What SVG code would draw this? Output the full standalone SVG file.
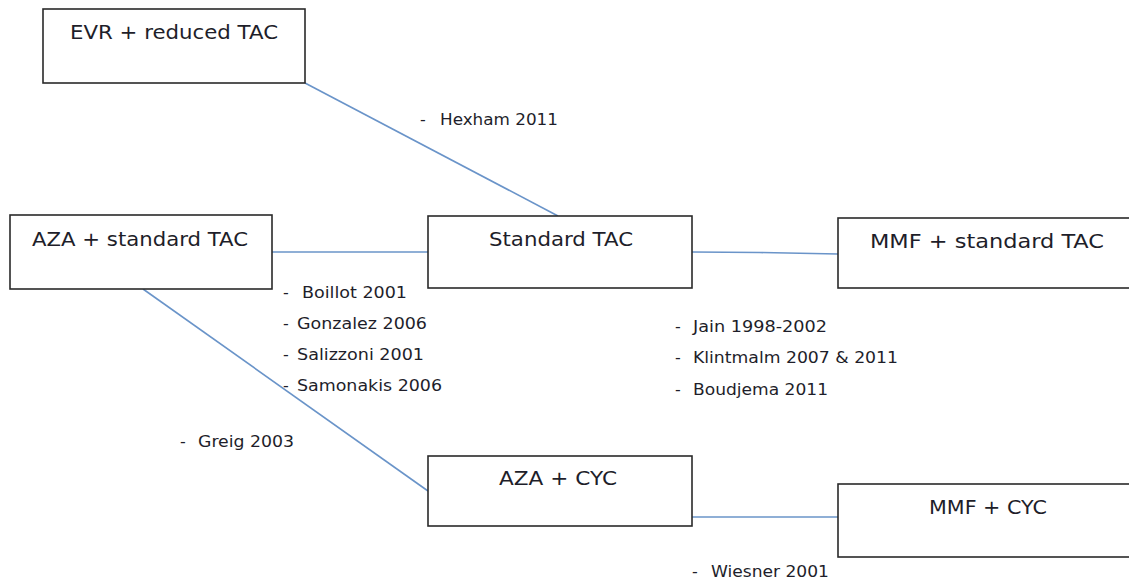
<svg xmlns="http://www.w3.org/2000/svg" width="1129" height="582" viewBox="0 0 1129 582">
<style>
.box{fill:#fff;stroke:#2a2a2a;stroke-width:1.6}
.lbl{font-family:"DejaVu Sans",Verdana,sans-serif;font-size:20px;fill:#1e1e2a}
.ref{font-family:"DejaVu Sans",Verdana,sans-serif;font-size:16px;fill:#1e1e2a}
.con{stroke:#6a94c9;stroke-width:1.6;fill:none}
</style>
<rect width="1129" height="582" fill="#fff"/>
<g id="connectors">
<line class="con" x1="305" y1="83" x2="558" y2="216"/>
<line class="con" x1="272" y1="252" x2="428" y2="252"/>
<polyline class="con" points="692,252 760,252.5 838,254"/>
<line class="con" x1="143" y1="289" x2="428" y2="491"/>
<line class="con" x1="692" y1="517" x2="838" y2="517"/>
</g>
<g id="evr">
<rect class="box" x="43" y="9" width="262" height="74"/>
<text class="lbl" x="70" y="39" textLength="208" lengthAdjust="spacingAndGlyphs">EVR + reduced TAC</text>
</g>
<g id="aza-std">
<rect class="box" x="10" y="215" width="262" height="74"/>
<text class="lbl" x="32" y="246" textLength="216" lengthAdjust="spacingAndGlyphs">AZA + standard TAC</text>
</g>
<g id="std">
<rect class="box" x="428" y="216" width="264" height="72"/>
<text class="lbl" x="489" y="246" textLength="144" lengthAdjust="spacingAndGlyphs">Standard TAC</text>
</g>
<g id="mmf-std">
<rect class="box" x="838" y="218" width="300" height="70"/>
<text class="lbl" x="870" y="248" textLength="234" lengthAdjust="spacingAndGlyphs">MMF + standard TAC</text>
</g>
<g id="aza-cyc">
<rect class="box" x="428" y="456" width="264" height="70"/>
<text class="lbl" x="499" y="485" textLength="118" lengthAdjust="spacingAndGlyphs">AZA + CYC</text>
</g>
<g id="mmf-cyc">
<rect class="box" x="838" y="484" width="300" height="73"/>
<text class="lbl" x="929" y="514" textLength="118" lengthAdjust="spacingAndGlyphs">MMF + CYC</text>
</g>
<g id="labels">
<text class="ref" x="420" y="125">-</text>
<text class="ref" x="440" y="125" textLength="118" lengthAdjust="spacingAndGlyphs">Hexham 2011</text>
<text class="ref" x="283" y="298">-</text>
<text class="ref" x="302" y="298" textLength="105" lengthAdjust="spacingAndGlyphs">Boillot 2001</text>
<text class="ref" x="283" y="329">-</text>
<text class="ref" x="297" y="329" textLength="130" lengthAdjust="spacingAndGlyphs">Gonzalez 2006</text>
<text class="ref" x="283" y="360">-</text>
<text class="ref" x="297" y="360" textLength="127" lengthAdjust="spacingAndGlyphs">Salizzoni 2001</text>
<text class="ref" x="283" y="391">-</text>
<text class="ref" x="297" y="391" textLength="145" lengthAdjust="spacingAndGlyphs">Samonakis 2006</text>
<text class="ref" x="675" y="332">-</text>
<text class="ref" x="693" y="332" textLength="134" lengthAdjust="spacingAndGlyphs">Jain 1998-2002</text>
<text class="ref" x="675" y="363">-</text>
<text class="ref" x="693" y="363" textLength="205" lengthAdjust="spacingAndGlyphs">Klintmalm 2007 &amp; 2011</text>
<text class="ref" x="675" y="395">-</text>
<text class="ref" x="693" y="395" textLength="135" lengthAdjust="spacingAndGlyphs">Boudjema 2011</text>
<text class="ref" x="180" y="447">-</text>
<text class="ref" x="198" y="447" textLength="96" lengthAdjust="spacingAndGlyphs">Greig 2003</text>
<text class="ref" x="692" y="577">-</text>
<text class="ref" x="711" y="577" textLength="118" lengthAdjust="spacingAndGlyphs">Wiesner 2001</text>
</g>
</svg>
